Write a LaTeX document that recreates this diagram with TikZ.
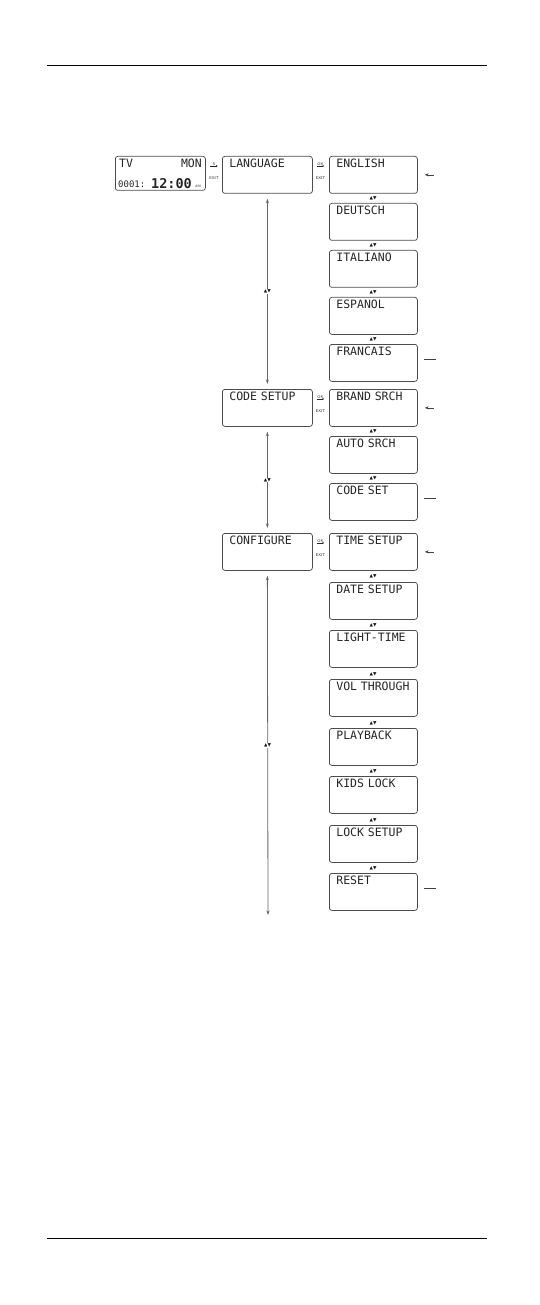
\documentclass[tikz,border=0pt]{standalone}
\usepackage{fontspec}
\setmonofont{DejaVu Sans Mono}
\newfontfamily\trifont{DejaVu Sans}
\usetikzlibrary{arrows.meta,positioning}

\begin{document}
\begin{tikzpicture}[
x=1pt,y=-1pt,
rule/.style={draw, line width=0.9pt},
menu/.style={draw=black!70, line width=0.75pt, rounded corners=2.5pt, anchor=north west,
  font=\fontsize{11.5}{11.5}\selectfont\ttfamily, text=black!85, align=left,
  inner xsep=7pt, inner ysep=3.5pt, text width=74pt, text height=8pt, text depth=22pt},
main/.style={menu, text width=76pt},
disp/.style={draw=black!70, line width=0.75pt, rounded corners=2.5pt, anchor=north west,
  minimum width=90pt, minimum height=34pt, inner sep=0pt},
lcd/.style={font=\fontsize{11.5}{11.5}\selectfont\ttfamily, text=black!85, inner sep=0pt},
key/.style={font=\fontsize{4}{4}\selectfont\sffamily, inner sep=0.3pt, minimum width=7pt, text=black!85},
keyarr/.style={-{Stealth[length=1.8pt,width=1.8pt]}, line width=0.35pt, draw=black!85},
updown/.style={font=\fontsize{4.5}{4.5}\selectfont\trifont, inner sep=0.6pt, text=black!90},
nav/.style={{Stealth[length=4.5pt,width=3pt]}-{Stealth[length=4.5pt,width=3pt]}, draw=black!60, line width=0.8pt},
back/.style={-{Stealth[length=4pt,width=3pt]}, line width=0.6pt, draw=black!75},
tail/.style={line width=0.6pt, draw=black!75}
]
\useasboundingbox (0,0) rectangle (539,1305);

% page rules
\coordinate (rtl) at (47,65);
\coordinate (rtr) at (487,65);
\coordinate (rbl) at (47,1238);
\coordinate (rbr) at (487,1238);
\draw[rule] (rtl) -- (rtr);
\draw[rule] (rbl) -- (rbr);

% display
\node[disp] (tvbox) at (115,156) {};
\node[lcd, anchor=north west] (tv) at (119,159) {TV};
\node[lcd, anchor=north east] (mon) at (202,159) {MON};
\node[lcd, anchor=south west, font=\fontsize{9}{9}\selectfont\ttfamily] (cnt) at (118,188) {0001:};
\node[lcd, anchor=south west, font=\fontsize{13.5}{13.5}\selectfont\ttfamily\bfseries] (clk) at (151,188.5) {12:00};
\node[lcd, anchor=south west, font=\fontsize{3.5}{3.5}\selectfont\sffamily] (am) at (195,188) {AM};

% main menu
\node[main] (lang) at (222,156) {LANGUAGE};
\node[main] (code) at (222,389) {CODE~SETUP};
\node[main] (conf) at (222,533) {CONFIGURE};

% keys
\node[key] (s1) at (214,164) {S};
\draw[keyarr] (s1.south west) -- (s1.south east);
\node[key] (x1) at (214,178) {EXIT};
\node[key] (ok1) at (320.5,164) {OK};
\draw[keyarr] (ok1.south west) -- (ok1.south east);
\node[key] (x2) at (320.5,178) {EXIT};
\node[key] (ok2) at (320.5,397) {OK};
\draw[keyarr] (ok2.south west) -- (ok2.south east);
\node[key] (x3) at (320.5,411) {EXIT};
\node[key] (ok3) at (320.5,541) {OK};
\draw[keyarr] (ok3.south west) -- (ok3.south east);
\node[key] (x4) at (320.5,555) {EXIT};

% language submenu
\node[menu] (eng) at (329,156) {ENGLISH};
\node[menu] (deu) at (329,203) {DEUTSCH};
\node[menu] (ita) at (329,250) {ITALIANO};
\node[menu] (esp) at (329,297) {ESPANOL};
\node[menu] (fra) at (329,344) {FRANCAIS};
\node[updown] (ud1) at (373,198) {▲▼};
\node[updown] (ud2) at (373,245) {▲▼};
\node[updown] (ud3) at (373,292) {▲▼};
\node[updown] (ud4) at (373,339) {▲▼};

% code setup submenu
\node[menu] (brand) at (329,389) {BRAND~SRCH};
\node[menu] (auto) at (329,436) {AUTO~SRCH};
\node[menu] (cset) at (329,483) {CODE~SET};
\node[updown] (ud5) at (373,431) {▲▼};
\node[updown] (ud6) at (373,478) {▲▼};

% configure submenu
\node[menu] (time) at (329,533) {TIME~SETUP};
\node[menu] (date) at (329,582) {DATE~SETUP};
\node[menu] (light) at (329,630) {LIGHT-TIME};
\node[menu] (vol) at (329,679) {VOL~THROUGH};
\node[menu] (play) at (329,728) {PLAYBACK};
\node[menu] (kids) at (329,776) {KIDS~LOCK};
\node[menu] (lock) at (329,825) {LOCK~SETUP};
\node[menu] (reset) at (329,873) {RESET};
\node[updown] (ud7) at (373,576) {▲▼};
\node[updown] (ud8) at (373,625) {▲▼};
\node[updown] (ud9) at (373,674) {▲▼};
\node[updown] (ud10) at (373,723) {▲▼};
\node[updown] (ud11) at (373,771) {▲▼};
\node[updown] (ud12) at (373,820) {▲▼};
\node[updown] (ud13) at (373,868) {▲▼};

% up/down between main items
\coordinate (cfgend) at (268,915);
\draw[nav] ([yshift=-5pt]lang.south) -- ([yshift=5pt]code.north)
  node[midway, updown, fill=white] (ma) {▲▼};
\draw[nav] ([yshift=-5pt]code.south) -- ([yshift=5pt]conf.north)
  node[midway, updown, fill=white] (mb) {▲▼};
\draw[nav] ([yshift=-5pt]conf.south) -- (cfgend)
  node[midway, updown, fill=white] (mc) {▲▼};

% wrap marks
\draw[back] ([xshift=16pt]eng.east) -- ([xshift=7pt]eng.east);
\draw[tail] ([xshift=6pt,yshift=4pt]fra.east) -- ([xshift=18pt,yshift=4pt]fra.east);
\draw[back] ([xshift=16pt]brand.east) -- ([xshift=7pt]brand.east);
\draw[tail] ([xshift=6pt,yshift=4pt]cset.east) -- ([xshift=18pt,yshift=4pt]cset.east);
\draw[back] ([xshift=16pt]time.east) -- ([xshift=7pt]time.east);
\draw[tail] ([xshift=6pt,yshift=4pt]reset.east) -- ([xshift=18pt,yshift=4pt]reset.east);
\end{tikzpicture}
\end{document}
